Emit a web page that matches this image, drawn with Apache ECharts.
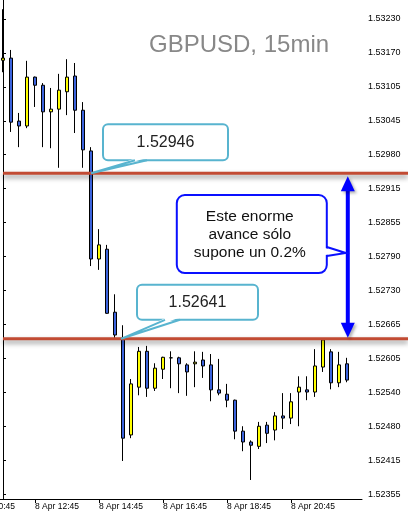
<!DOCTYPE html>
<html><head><meta charset="utf-8">
<script src="https://cdn.jsdelivr.net/npm/echarts@6/dist/echarts.min.js"></script>
<style>html,body{margin:0;padding:0;background:#fff;overflow:hidden}#c{width:408px;height:518px}</style>
</head><body><div id="c"></div>
<script>
// ---- data ----
const times = ['8 Apr 11:45','8 Apr 12:00','8 Apr 12:15','8 Apr 12:30','8 Apr 12:45','8 Apr 13:00','8 Apr 13:15','8 Apr 13:30',
  '8 Apr 13:45','8 Apr 14:00','8 Apr 14:15','8 Apr 14:30','8 Apr 14:45','8 Apr 15:00','8 Apr 15:15','8 Apr 15:30',
  '8 Apr 15:45','8 Apr 16:00','8 Apr 16:15','8 Apr 16:30','8 Apr 16:45','8 Apr 17:00','8 Apr 17:15','8 Apr 17:30',
  '8 Apr 17:45','8 Apr 18:00','8 Apr 18:15','8 Apr 18:30','8 Apr 18:45','8 Apr 19:00','8 Apr 19:15','8 Apr 19:30',
  '8 Apr 19:45','8 Apr 20:00','8 Apr 20:15','8 Apr 20:30','8 Apr 20:45','8 Apr 21:00','8 Apr 21:15','8 Apr 21:30',
  '8 Apr 21:45','8 Apr 22:00','8 Apr 22:15','8 Apr 22:30'];
const open  = [1.53154,1.53158,1.53042,1.53033,1.53123,1.53108,1.53059,1.53064,1.53096,1.53125,1.53062,1.52987,
  1.52788,1.52806,1.52690,1.52641,1.52464,1.52552,1.52618,1.52550,1.52585,1.52606,1.52606,1.52593,1.52595,1.52602,
  1.52593,1.52547,1.52539,1.52528,1.52471,1.52451,1.52443,1.52482,1.52473,1.52499,1.52495,1.52543,1.52547,1.52543,
  1.52589,1.52617,1.52560,1.52595];
const close = [1.53158,1.53040,1.53033,1.53123,1.53108,1.53059,1.53064,1.53099,1.53123,1.53062,1.52989,1.52788,
  1.52814,1.52688,1.52648,1.52458,1.52558,1.52618,1.52550,1.52587,1.52607,1.52606,1.52595,1.52580,1.52598,1.52591,
  1.52547,1.52541,1.52528,1.52471,1.52451,1.52445,1.52480,1.52467,1.52499,1.52495,1.52525,1.52552,1.52543,1.52591,
  1.52639,1.52560,1.52593,1.52565];
const low   = [1.53132,1.53022,1.52994,1.53029,1.53068,1.52994,1.52992,1.52956,1.53053,1.53020,1.52956,1.52775,
  1.52768,1.52687,1.52642,1.52416,1.52458,1.52537,1.52534,1.52545,1.52567,1.52550,1.52541,1.52536,1.52552,1.52569,
  1.52526,1.52537,1.52515,1.52456,1.52434,1.52381,1.52438,1.52449,1.52454,1.52475,1.52484,1.52480,1.52528,1.52534,
  1.52580,1.52548,1.52552,1.52561];
const high  = [1.53248,1.53173,1.53057,1.53153,1.53124,1.53112,1.53103,1.53129,1.53156,1.53149,1.53077,1.52994,
  1.52843,1.52814,1.52723,1.52666,1.52567,1.52626,1.52628,1.52596,1.52608,1.52618,1.52608,1.52596,1.52618,1.52617,
  1.52613,1.52604,1.52558,1.52529,1.52480,1.52454,1.52488,1.52488,1.52506,1.52541,1.52541,1.52572,1.52572,1.52622,
  1.52642,1.52622,1.52617,1.52606];
const yTickLabels = ['1.52355','1.52415','1.52480','1.52540','1.52605','1.52665','1.52730','1.52790',
  '1.52855','1.52915','1.52980','1.53045','1.53105','1.53170','1.53230'];
const xTickIdx = [4, 12, 20, 28, 36];
const prevLabel = '8 Apr 10:45';   // label of the 10:45 tick, 4 bars before the first bar
const prevLabelIdx = -4;
const levels = [1.52946, 1.52641];
const levelLabels = ['1.52946', '1.52641'];
const calloutIdx = [11, 14.75];
const arrowIdx = 43.1;
const noteText = 'Este enorme\navance sólo\nsupone un 0.2%';
const titleText = 'GBPUSD, 15min';

// ---- axis scale settings ----
const Y_BASE = 1.52355, Y_STEP = 0.000625;
const yTickValues = yTickLabels.map((_, i) => Y_BASE + i * Y_STEP);
const FONT = '"Liberation Sans", Arial, sans-serif';

const chart = echarts.init(document.getElementById('c'), null, {renderer: 'canvas'});
chart.setOption({
  animation: false,
  backgroundColor: '#fff',
  title: {text: titleText, left: 149, top: 33, padding: 0,
    textStyle: {fontSize: 24, fontWeight: 'normal', color: '#888', fontFamily: FONT}},
  grid: {left: 0, right: 46, top: 0, bottom: 19, containLabel: false},
  xAxis: {
    type: 'value', min: -0.375, max: 44.875,
    axisLine: {show: true, lineStyle: {color: '#000', width: 1}},
    axisTick: {show: true, length: 4, customValues: xTickIdx, lineStyle: {color: '#000'}},
    axisLabel: {show: true, customValues: xTickIdx, align: 'left', margin: 3, fontSize: 8.5,
      fontFamily: FONT, color: '#000', formatter: v => times[Math.round(v)] || ''},
    splitLine: {show: false}
  },
  yAxis: {
    type: 'value', position: 'right', min: 1.52346, max: 1.53265, scale: true,
    axisLine: {show: true, lineStyle: {color: '#000', width: 1}},
    axisTick: {show: true, length: 3, customValues: yTickValues, lineStyle: {color: '#000'}},
    axisLabel: {show: true, customValues: yTickValues, margin: 6, fontSize: 9, fontFamily: FONT, color: '#000',
      formatter: v => yTickLabels[Math.round((v - Y_BASE) / Y_STEP)] || ''},
    splitLine: {show: false}
  },
  series: [{
    type: 'candlestick',
    dimensions: ['idx', 'open', 'close', 'lowest', 'highest'],
    encode: {x: 'idx', y: ['open', 'close', 'lowest', 'highest']},
    data: times.map((t, i) => [i, open[i], close[i], low[i], high[i]]),
    barWidth: 4,
    itemStyle: {color: '#ffff00', color0: '#3b63dd', borderColor: '#000', borderColor0: '#000', borderWidth: 1},
    emphasis: {disabled: true}
  }]
});

// ---- annotations positioned through the chart's own scales ----
const px = (i, p) => chart.convertToPixel({gridIndex: 0}, [i, p]);
const g = [];
const W = 408;
levels.forEach(lv => {
  const p = px(0, lv);
  g.push({type: 'line', z: 10, shape: {x1: p[0], y1: p[1], x2: W, y2: p[1]},
    style: {stroke: '#c24b33', lineWidth: 3, shadowBlur: 5, shadowOffsetY: 3, shadowColor: 'rgba(0,0,0,0.45)'}});
});
// callout = rounded rect + white patch over the edge + two-sided pointer stroke
function callout(x0, y0, x1, y1, r, side, a, b, tx, ty, color) {
  g.push({type: 'rect', z: 20, shape: {x: x0, y: y0, width: x1 - x0, height: y1 - y0, r: r},
    style: {fill: '#fff', stroke: color, lineWidth: 2}});
  let fillPts, linePts;
  if (side === 'bottom') {
    fillPts = [[a + 1, y1 - 2], [b - 1, y1 - 2], [tx, ty]];
    linePts = [[a, y1], [tx, ty], [b, y1]];
  } else {
    fillPts = [[x1 - 2, a + 1], [x1 - 2, b - 1], [tx, ty]];
    linePts = [[x1, a], [tx, ty], [x1, b]];
  }
  g.push({type: 'polygon', z: 21, shape: {points: fillPts}, style: {fill: '#fff', stroke: null}});
  g.push({type: 'polyline', z: 22, shape: {points: linePts}, style: {stroke: color, lineWidth: 2, fill: null}});
}
// teal price callouts
const co = [
  {dx0: 12, dy0: -49, w: 125, h: 36, a: 44, b: 56},
  {dx0: 16, dy0: -54, w: 121, h: 35, a: 44, b: 59}
];
levels.forEach((lv, k) => {
  const t = px(calloutIdx[k], lv);
  const c = co[k];
  const x0 = t[0] + c.dx0, y0 = t[1] + c.dy0, x1 = x0 + c.w, y1 = y0 + c.h;
  callout(x0, y0, x1, y1, 5, 'bottom', t[0] + c.a, t[0] + c.b, t[0], t[1], '#58b4cf');
  g.push({type: 'text', z: 23, x: (x0 + x1) / 2, y: (y0 + y1) / 2,
    style: {text: levelLabels[k], align: 'center', verticalAlign: 'middle', fontSize: 16, fontFamily: FONT, fill: '#222'}});
});
// blue double arrow
const aTop = px(arrowIdx, levels[0]), aBot = px(arrowIdx, levels[1]);
const ax = aTop[0];
g.push({type: 'line', z: 15, shape: {x1: ax, y1: aTop[1] + 14, x2: ax, y2: aBot[1] - 12},
  style: {stroke: '#0000ff', lineWidth: 4}});
g.push({type: 'polygon', z: 15, shape: {points: [[ax, aTop[1] + 3], [ax - 7, aTop[1] + 18], [ax + 7, aTop[1] + 18]]},
  style: {fill: '#0000ff', shadowBlur: 3, shadowColor: 'rgba(0,0,0,0.3)', shadowOffsetX: 2, shadowOffsetY: 2}});
g.push({type: 'polygon', z: 15, shape: {points: [[ax, aBot[1] - 1], [ax - 7, aBot[1] - 16], [ax + 7, aBot[1] - 16]]},
  style: {fill: '#0000ff', shadowBlur: 3, shadowColor: 'rgba(0,0,0,0.3)', shadowOffsetX: 2, shadowOffsetY: 2}});
// blue note box
const tipX = ax - 2, tipY = (aTop[1] + aBot[1]) / 2 - 3;
const bx0 = tipX - 169, bx1 = tipX - 19, by0 = tipY - 58, by1 = tipY + 20;
callout(bx0, by0, bx1, by1, 8, 'right', tipY - 6, tipY + 3, tipX, tipY, '#0a10ff');
g.push({type: 'text', z: 23, x: (bx0 + bx1) / 2 - 2, y: (by0 + by1) / 2 + 1,
  style: {text: noteText, align: 'center', verticalAlign: 'middle', fontSize: 15.5, lineHeight: 18,
    fontFamily: FONT, fill: '#111'}});
// the 10:45 tick label that sits mostly left of the visible window
const pl = px(prevLabelIdx, levels[1]);
const axisY = px(0, 1.52346)[1];
g.push({type: 'text', z: 5, x: pl[0], y: axisY + 3,
  style: {text: prevLabel, align: 'left', verticalAlign: 'top', fontSize: 8.5, fontFamily: FONT, fill: '#000'}});
chart.setOption({graphic: {elements: g}});
</script>
</body></html>
